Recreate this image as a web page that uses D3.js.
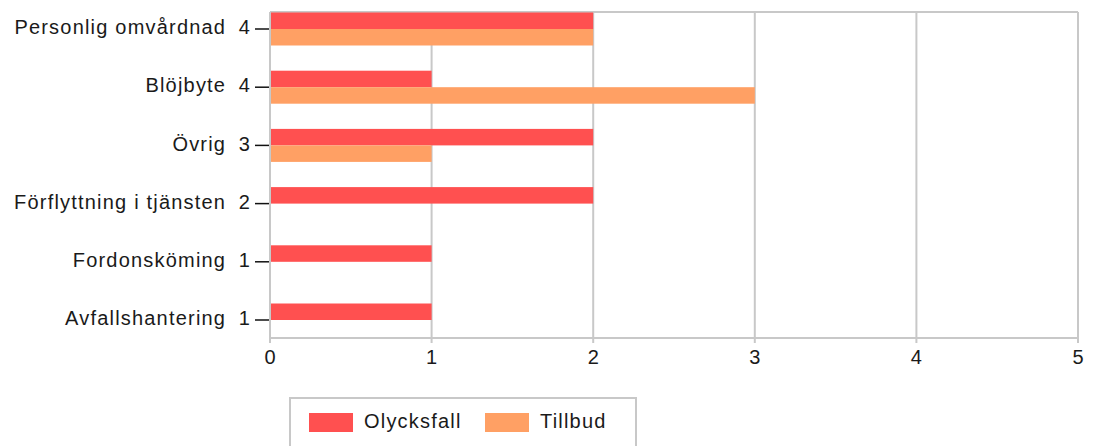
<!DOCTYPE html>
<html>
<head>
<meta charset="utf-8">
<script src="https://cdn.jsdelivr.net/npm/d3@7.9.0/dist/d3.min.js"></script>
<style>
  body { margin: 0; background: #fff; }
  svg text { font-family: "Liberation Sans", Arial, sans-serif; font-size: 20px; fill: #1a1a1a; letter-spacing: 1.2px; }
</style>
</head>
<body>
<svg id="chart" width="1093" height="446"></svg>
<script>
// data
const categories = ['Personlig omvårdnad', 'Blöjbyte', 'Övrig', 'Förflyttning i tjänsten', 'Fordonsköming', 'Avfallshantering'];
const totals = [4, 4, 3, 2, 1, 1];
const olycksfall = [2, 1, 2, 2, 1, 1];
const tillbud = [2, 3, 1, 0, 0, 0];
const seriesNames = ['Olycksfall', 'Tillbud'];
const seriesColors = ['#ff5050', '#ffa064'];
const xTicks = [0, 1, 2, 3, 4, 5];

const svg = d3.select('#chart');
const plotLeft = 270, plotRight = 1078, plotTop = 12, plotBottom = 338;
const ls = 1.2; // trailing letter-spacing correction for end-anchored text

let x = d3.scaleLinear().domain([0, 5]).range([plotLeft, plotRight]);
let y = d3.scalePoint().domain(categories).range([29, 320]);
const barH = 16.5;

// grid + frame
svg.append('g')
  .selectAll('line')
  .data(xTicks)
  .join('line')
  .attr('x1', d => x(d)).attr('x2', d => x(d))
  .attr('y1', plotTop).attr('y2', plotBottom + 5)
  .attr('stroke', '#c8c8c8').attr('stroke-width', 2);
svg.append('line')
  .attr('x1', plotLeft).attr('x2', plotRight).attr('y1', plotTop).attr('y2', plotTop)
  .attr('stroke', '#c8c8c8').attr('stroke-width', 2);
svg.append('line')
  .attr('x1', plotLeft).attr('x2', plotRight).attr('y1', plotBottom).attr('y2', plotBottom)
  .attr('stroke', '#c8c8c8').attr('stroke-width', 2);

// bars
const series = [olycksfall, tillbud];
series.forEach((vals, s) => {
  svg.append('g')
    .selectAll('rect')
    .data(categories)
    .join('rect')
    .attr('x', x(0) + 1)
    .attr('y', d => y(d) - barH + s * barH)
    .attr('width', (d, i) => Math.max(0, x(vals[i]) - x(0) - 1))
    .attr('height', barH)
    .attr('fill', seriesColors[s]);
});

// category labels, totals and ticks
const yg = svg.append('g');
categories.forEach((c, i) => {
  yg.append('text')
    .attr('x', 225 + ls).attr('y', y(c))
    .attr('text-anchor', 'end').attr('dominant-baseline', 'middle')
    .text(c);
  yg.append('text')
    .attr('x', 250 + ls).attr('y', y(c))
    .attr('text-anchor', 'end').attr('dominant-baseline', 'middle')
    .text(totals[i]);
  yg.append('line')
    .attr('x1', 255).attr('x2', plotLeft - 1)
    .attr('y1', y(c)).attr('y2', y(c))
    .attr('stroke', '#111').attr('stroke-width', 1.5);
});

// x tick labels
svg.append('g')
  .selectAll('text')
  .data(xTicks)
  .join('text')
  .attr('x', d => x(d) + ls / 2)
  .attr('y', 364)
  .attr('text-anchor', 'middle')
  .text(d => d);

// legend
const lg = svg.append('g');
lg.append('rect')
  .attr('x', 290).attr('y', 398).attr('width', 346).attr('height', 70)
  .attr('fill', '#fff').attr('stroke', '#c8c8c8').attr('stroke-width', 2);
const legX = [309, 485];
seriesNames.forEach((n, i) => {
  lg.append('rect')
    .attr('x', legX[i]).attr('y', 413).attr('width', 44).attr('height', 19)
    .attr('fill', seriesColors[i]);
  lg.append('text')
    .attr('x', legX[i] + 55).attr('y', 423)
    .attr('dominant-baseline', 'middle')
    .text(n);
});
</script>
</body>
</html>
